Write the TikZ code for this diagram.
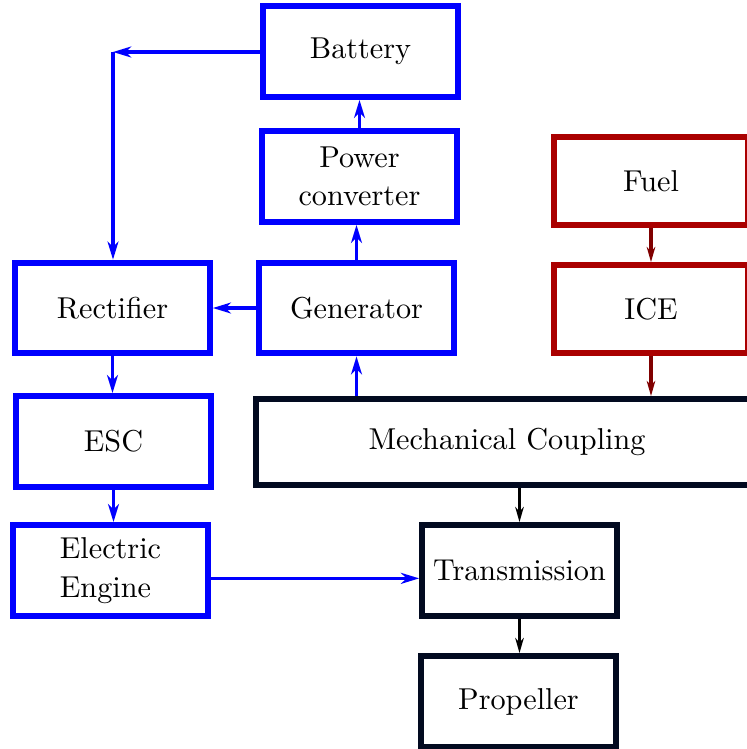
\documentclass[tikz,border=0pt]{standalone}
\usetikzlibrary{arrows.meta}
\definecolor{bblue}{RGB}{0,0,255}
\definecolor{boxred}{RGB}{170,0,0}
\definecolor{arrred}{RGB}{128,0,0}
\definecolor{navy}{RGB}{2,10,32}
\tikzset{
  box/.style={draw, line width=2pt, inner sep=0pt, minimum width=64.4pt, minimum height=30pt, align=center,
    execute at begin node={\setlength{\baselineskip}{12.8pt}}},
  bluebox/.style={box, draw=bblue},
  redbox/.style={box, draw=boxred, minimum height=29pt},
  navybox/.style={box, draw=navy},
  barrow/.style={draw=bblue, line width=1.2pt, -{Stealth[length=6pt,width=3.6pt,inset=1.8pt]}},
  rarrow/.style={draw=arrred, line width=1pt, -{Stealth[length=5pt,width=2.8pt,inset=1.5pt]}},
  karrow/.style={draw=black, line width=1pt, -{Stealth[length=5pt,width=2.8pt,inset=1.5pt]}},
}
\begin{document}
\begin{tikzpicture}[x=0.331pt, y=-0.331pt]
\clip (0,0) rectangle (747,749);
\useasboundingbox (0,0) rectangle (747,749);
\node[bluebox] (bat) at (360.5,51.5) {Battery};
\node[bluebox] (pc) at (359.5,176.5) {Power\\converter};
\node[bluebox] (gen) at (356.5,308) {Generator};
\node[bluebox] (rect) at (112.5,308) {Rectifier};
\node[bluebox] (esc) at (113.5,441.5) {ESC};
\node[bluebox, align=left] (ee) at (110.5,570.5) {Electric\\Engine};
\node[navybox, minimum width=166pt, minimum height=28.4pt] (mc) at (507,442) {Mechanical Coupling};
\node[navybox] (trans) at (519.5,570.5) {Transmission};
\node[navybox] (prop) at (518.5,701.5) {Propeller};
\node[redbox] (fuel) at (651,181) {Fuel};
\node[redbox] (ice) at (651,309) {ICE};
\coordinate (corner) at (113,52);
\draw[barrow] (bat.west |- corner) -- (corner);
\draw[barrow] (corner) -- (corner |- rect.north);
\draw[barrow] (pc.north) -- (pc.north |- bat.south);
\draw[barrow] (gen.north) -- (gen.north |- pc.south);
\draw[barrow] (gen.west) -- (rect.east);
\draw[barrow] (gen.south |- mc.north) -- (gen.south);
\draw[barrow] (rect.south) -- (rect.south |- esc.north);
\draw[barrow] (esc.south) -- (esc.south |- ee.north);
\draw[barrow] ([yshift=-2.6pt]ee.east) -- ([yshift=-2.6pt]ee.east -| trans.west);
\draw[rarrow] (fuel.south) -- (ice.north);
\draw[rarrow] (ice.south) -- (ice.south |- mc.north);
\draw[karrow] (trans.north |- mc.south) -- (trans.north);
\draw[karrow] (trans.south) -- (trans.south |- prop.north);
\end{tikzpicture}
\end{document}
